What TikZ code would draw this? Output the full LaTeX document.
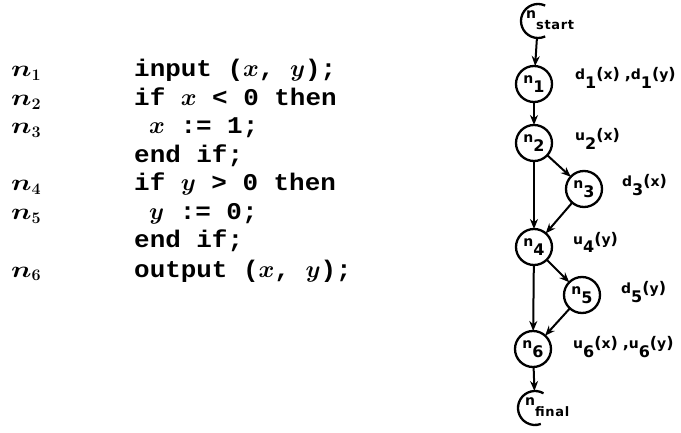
\documentclass[tikz,border=0pt]{standalone}
\usepackage{fix-cm}
\usepackage{fontspec}
\newfontfamily\codefont{Liberation Mono}[FakeStretch=1.08]
\newfontfamily\gfont{DejaVu Sans}[LetterSpace=30]
\usetikzlibrary{arrows.meta}
\newcommand\sm[1]{{\fontsize{14}{14}\selectfont #1}}
\newcommand\lw[1]{\raisebox{-9pt}{#1}}
\newcommand\lwt[1]{\raisebox{-11pt}{\fontsize{13}{13}\selectfont\addfontfeature{LetterSpace=5}#1}}
\newcommand\nl[1]{\scalebox{1.25}[1]{$n$}$_{#1}$}
\tikzset{
  gf/.style={font=\gfont\bfseries\fontsize{16}{16}\selectfont},
  vtx/.style={gf, circle, draw, line width=2.3pt, minimum size=36pt, inner sep=0pt, outer sep=0pt},
  openvtx/.style={circle, minimum size=34pt, inner sep=0pt, outer sep=0pt},
  ring/.style={line width=2.3pt},
  lab/.style={gf, anchor=base west, inner sep=0pt},
  arr/.style={line width=2pt, -{Stealth[length=10pt,width=8pt]}},
  code/.style={anchor=base west, inner sep=0pt, font=\codefont\bfseries\boldmath\fontsize{24}{27}\selectfont},
  nlab/.style={anchor=base west, inner sep=0pt, font=\boldmath\fontsize{23}{27}\selectfont}
}
\begin{document}
\begin{tikzpicture}[x=1pt,y=1pt]
\useasboundingbox (0,0) rectangle (681,432);
% program text
\node[nlab] (l1) at (11,355) {\nl{1}};
\node[nlab] (l2) at (11,326) {\nl{2}};
\node[nlab] (l3) at (11,298) {\nl{3}};
\node[nlab] (l4) at (11,241) {\nl{4}};
\node[nlab] (l5) at (11,212) {\nl{5}};
\node[nlab] (l6) at (11,155) {\nl{6}};
\node[code] (c1) at (134,355) {input ($x$, $y$);};
\node[code] (c2) at (134,326) {if $x$ < 0 then};
\node[code] (c3) at (149,298) {$x$ := 1;};
\node[code] (c4) at (134,269) {end if;};
\node[code] (c5) at (134,241) {if $y$ > 0 then};
\node[code] (c6) at (149,212) {$y$ := 0;};
\node[code] (c7) at (134,184) {end if;};
\node[code] (c8) at (134,155) {output ($x$, $y$);};
% graph
\node[openvtx] (s) at (538,411) {};
\draw[ring] (s.65) arc[start angle=65, end angle=295, radius=17pt];
\node[lab] (st) at (526,413) {\sm{n}\lwt{start}};
\node[vtx] (n1) at (534,348) {\sm{n}\lw{1}};
\node[vtx] (n2) at (534,289) {\sm{n}\lw{2}};
\node[vtx] (n3) at (584,243) {\sm{n}\lw{3}};
\node[vtx] (n4) at (534,185) {\sm{n}\lw{4}};
\node[vtx] (n5) at (582,137) {\sm{n}\lw{5}};
\node[vtx] (n6) at (533,83) {\sm{n}\lw{6}};
\node[openvtx] (f) at (535,24) {};
\draw[ring] (f.60) arc[start angle=60, end angle=290, radius=17pt];
\node[lab] (ft) at (525,27) {\sm{n}\lwt{final}};
\draw[arr] (s) -- (n1);
\draw[arr] (n1) -- (n2);
\draw[arr] (n2) -- (n3);
\draw[arr] (n2) -- (n4);
\draw[arr] (n3) -- (n4);
\draw[arr] (n4) -- (n5);
\draw[arr] (n4) -- (n6);
\draw[arr] (n5) -- (n6);
\draw[arr] (n6) -- (f);
% labels
\node[lab] (a1) at (575,352) {\sm{d}\lw{1}(\sm{x}),\sm{d}\lw{1}(\sm{y})};
\node[lab] (a2) at (575,291) {\sm{u}\lw{2}(\sm{x})};
\node[lab] (a3) at (622,245) {\sm{d}\lw{3}(\sm{x})};
\node[lab] (a4) at (573,188) {\sm{u}\lw{4}(\sm{y})};
\node[lab] (a5) at (621,139) {\sm{d}\lw{5}(\sm{y})};
\node[lab] (a6) at (573,84) {\sm{u}\lw{6}(\sm{x}),\sm{u}\lw{6}(\sm{y})};
\end{tikzpicture}
\end{document}
